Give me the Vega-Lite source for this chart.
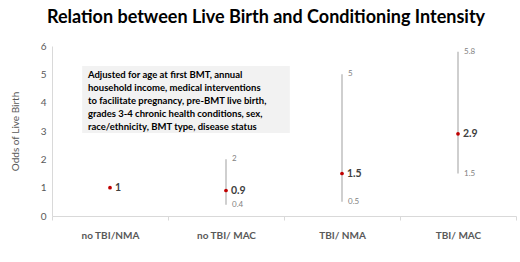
{
  "$schema": "https://vega.github.io/schema/vega-lite/v6.json",
  "width": 464,
  "height": 170,
  "autosize": {"type": "none"},
  "padding": {"left": 52, "top": 46, "right": 4, "bottom": 46},
  "background": "white",
  "title": {
    "text": "Relation between Live Birth and Conditioning Intensity",
    "font": "Lato",
    "fontSize": 18,
    "fontWeight": "bold",
    "color": "#000000",
    "anchor": "middle",
    "offset": 14,
    "dx": -18
  },
  "config": {
    "view": {"stroke": null},
    "font": "Lato"
  },
  "data": {
    "values": [
      {"group": "no TBI/NMA", "odds": 1, "lo": null, "hi": null},
      {"group": "no TBI/ MAC", "odds": 0.9, "lo": 0.4, "hi": 2},
      {"group": "TBI/ NMA", "odds": 1.5, "lo": 0.5, "hi": 5},
      {"group": "TBI/ MAC", "odds": 2.9, "lo": 1.5, "hi": 5.8}
    ]
  },
  "encoding": {
    "x": {
      "field": "group",
      "type": "nominal",
      "sort": null,
      "scale": {"paddingInner": 0, "paddingOuter": 0},
      "axis": {
        "title": null,
        "labelAngle": 0,
        "labelFont": "Lato",
        "labelFontSize": 10,
        "labelFontWeight": "bold",
        "labelColor": "#595959",
        "labelPadding": 10,
        "domainColor": "#d9d9d9",
        "tickColor": "#d9d9d9",
        "tickBand": "extent",
        "tickSize": 4,
        "grid": false
      }
    },
    "y": {
      "field": "odds",
      "type": "quantitative",
      "scale": {"domain": [0, 6]},
      "axis": {
        "title": "Odds of Live Birth",
        "titleFont": "Lato",
        "titleFontSize": 10,
        "titleFontWeight": "normal",
        "titleColor": "#595959",
        "titlePadding": 20,
        "values": [0, 1, 2, 3, 4, 5, 6],
        "tickCount": 7,
        "labelOverlap": false,
        "labelFont": "Lato",
        "labelFontSize": 10,
        "labelColor": "#595959",
        "labelPadding": 6,
        "ticks": false,
        "grid": false,
        "domainColor": "#d9d9d9"
      }
    }
  },
  "layer": [
    {
      "data": {"values": [{"a": "no TBI/NMA", "b": "no TBI/ MAC", "top": 5.29, "bottom": 2.93}]},
      "mark": {"type": "rect", "color": "#f2f2f2"},
      "encoding": {
        "x": {"field": "a", "type": "nominal", "bandPosition": 0.26},
        "x2": {"field": "b", "bandPosition": 1.05},
        "y": {"field": "top", "type": "quantitative"},
        "y2": {"field": "bottom"}
      }
    },
    {
      "data": {"values": [{"a": "no TBI/NMA", "y": 5.15, "note": ["Adjusted for age at first BMT, annual", "household income, medical interventions", "to facilitate pregnancy, pre-BMT live birth,", "grades 3-4 chronic health conditions, sex,", "race/ethnicity, BMT type, disease status"]}]},
      "mark": {"type": "text", "align": "left", "baseline": "top", "font": "Lato", "fontSize": 9.5, "fontWeight": "bold", "color": "#000000", "lineHeight": 13},
      "encoding": {
        "x": {"field": "a", "type": "nominal", "bandPosition": 0.31},
        "y": {"field": "y", "type": "quantitative"},
        "text": {"field": "note"}
      }
    },
    {
      "mark": {"type": "rule", "color": "#bfbfbf", "strokeWidth": 1.5},
      "encoding": {
        "y": {"field": "lo", "type": "quantitative"},
        "y2": {"field": "hi"}
      }
    },
    {
      "mark": {"type": "point", "filled": true, "color": "#c00000", "size": 14, "opacity": 1}
    },
    {
      "mark": {"type": "text", "align": "left", "baseline": "middle", "dx": 5, "font": "Lato", "fontSize": 10.5, "fontWeight": "bold", "color": "#404040"},
      "encoding": {
        "text": {"field": "odds", "type": "quantitative"}
      }
    },
    {
      "transform": [{"filter": "datum.lo != null"}],
      "mark": {"type": "text", "align": "left", "baseline": "middle", "dx": 6, "font": "Lato", "fontSize": 8, "color": "#7f7f7f"},
      "encoding": {
        "y": {"field": "lo", "type": "quantitative"},
        "text": {"field": "lo", "type": "quantitative"}
      }
    },
    {
      "transform": [{"filter": "datum.hi != null"}],
      "mark": {"type": "text", "align": "left", "baseline": "middle", "dx": 6, "font": "Lato", "fontSize": 8, "color": "#7f7f7f"},
      "encoding": {
        "y": {"field": "hi", "type": "quantitative"},
        "text": {"field": "hi", "type": "quantitative"}
      }
    }
  ]
}
